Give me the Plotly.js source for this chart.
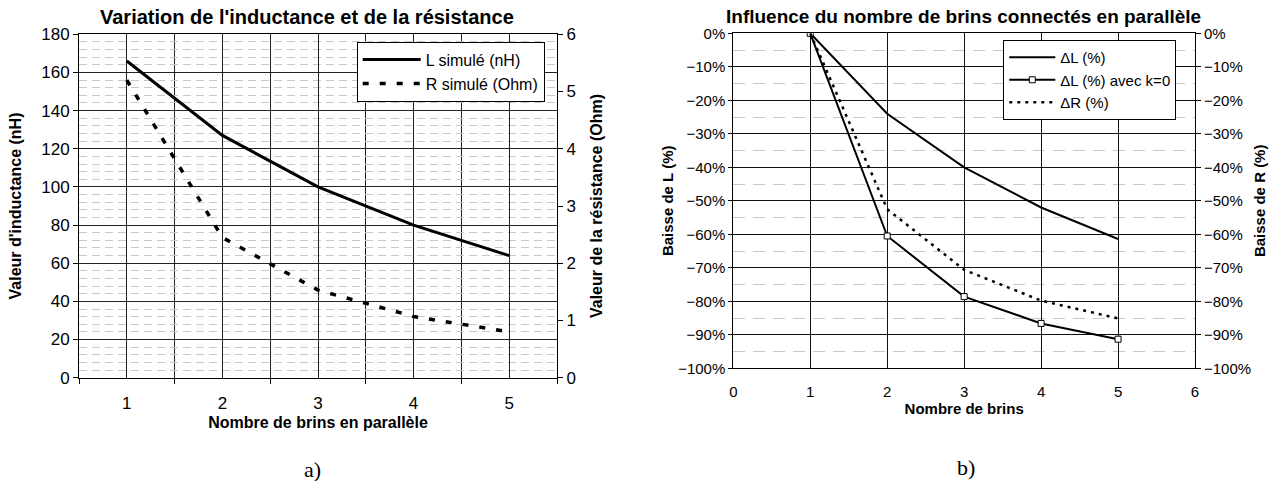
<!DOCTYPE html>
<html>
<head>
<meta charset="utf-8">
<script src="https://cdn.plot.ly/plotly-3.0.1.min.js"></script>
<style>html,body{margin:0;padding:0;background:#fff}#chart{width:1271px;height:481px}</style>
</head>
<body>
<div id="chart"></div>
<script>
// ---- Data: chart a) ----
const brinsA = [1, 2, 3, 4, 5];
const inductanceNH = [166, 127, 100, 80, 64];
const resistanceOhm = [5.2, 2.45, 1.53, 1.07, 0.80];
const xTickLabelsA = ['1', '2', '3', '4', '5'];

// ---- Data: chart b) ----
const brinsB = [1, 2, 3, 4, 5];
const deltaL = [0, -24, -40, -52, -61.4];
const deltaLk0 = [0, -60.5, -78.6, -86.6, -91.3];
const deltaR = [0, -52.5, -70.6, -79.8, -85.1];

const W = 1271, H = 481;
const px = v => v / W;
const py = v => 1 - v / H;
const FONT = 'Liberation Sans, Arial, sans-serif';

const traces = [
  {x: brinsA, y: inductanceNH, name: 'L simulé (nH)', type: 'scatter', mode: 'lines',
   xaxis: 'x', yaxis: 'y', line: {color: '#000', width: 3}, legend: 'legend'},
  {x: brinsA, y: resistanceOhm, name: 'R simulé (Ohm)', type: 'scatter', mode: 'lines',
   xaxis: 'x', yaxis: 'y3', line: {color: '#000', width: 3.5, dash: '6px,11px'}, legend: 'legend'},
  {x: brinsB, y: deltaL, name: 'ΔL (%)', type: 'scatter', mode: 'lines',
   xaxis: 'x2', yaxis: 'y2', line: {color: '#000', width: 2}, legend: 'legend2'},
  {x: brinsB, y: deltaLk0, name: 'ΔL (%) avec k=0', type: 'scatter', mode: 'lines+markers',
   xaxis: 'x2', yaxis: 'y2', line: {color: '#000', width: 2},
   marker: {symbol: 'square', size: 6, color: '#fff', line: {color: '#000', width: 1}}, legend: 'legend2'},
  {x: brinsB, y: deltaR, name: 'ΔR (%)', type: 'scatter', mode: 'lines',
   xaxis: 'x2', yaxis: 'y4', line: {color: '#000', width: 2.5, dash: '3px,5px'}, legend: 'legend2'}
];

const halfTicksA = [];
for (let i = 0; i <= brinsA.length; i++) halfTicksA.push(i + 0.5);

const layout = {
  width: W, height: H,
  margin: {l: 0, r: 0, t: 0, b: 0},
  paper_bgcolor: '#fff', plot_bgcolor: '#fff',
  font: {family: FONT, color: '#000', size: 16},
  showlegend: true,
  xaxis: {
    domain: [px(79), px(557)], anchor: 'y', range: [0.5, 5.5],
    tickmode: 'array', tickvals: brinsA, ticktext: xTickLabelsA, ticks: '',
    tickfont: {size: 17}, ticklabelstandoff: 10,
    showgrid: true, gridcolor: '#222', gridwidth: 1, zeroline: false,
    showline: true, linecolor: '#000', linewidth: 1, mirror: true,
    minor: {tickvals: halfTicksA, ticks: 'outside', ticklen: 5, tickcolor: '#000', showgrid: true, gridcolor: '#222'},
    title: {text: '<b>Nombre de brins en parallèle</b>', font: {size: 16}, standoff: 4},
    automargin: false, fixedrange: true
  },
  yaxis: {
    domain: [py(377.7), py(34.3)], anchor: 'x', range: [0, 180], dtick: 20,
    ticks: 'outside', ticklen: 5, tickcolor: '#000', tickfont: {size: 17},
    showgrid: true, gridcolor: '#222', zeroline: false,
    showline: true, linecolor: '#000', linewidth: 1,
    minor: {dtick: 4, showgrid: true, gridcolor: '#c8c8c8', griddash: '8px,5px'},
    title: {text: "<b>Valeur d'inductance (nH)</b>", font: {size: 16}, standoff: 15},
    automargin: false, fixedrange: true
  },
  yaxis3: {
    overlaying: 'y', side: 'right', anchor: 'x', range: [0, 6], dtick: 1,
    ticks: 'outside', ticklen: 5, tickcolor: '#000', tickfont: {size: 17},
    showgrid: false, zeroline: false, showline: true, linecolor: '#000',
    title: {text: '<b>Valeur de la résistance (Ohm)</b>', font: {size: 16}, standoff: 15},
    automargin: false, fixedrange: true
  },
  xaxis2: {
    domain: [px(733.3), px(1195)], anchor: 'y2', range: [0, 6], dtick: 1,
    ticks: '', tickfont: {size: 15}, ticklabelstandoff: 10,
    showgrid: true, gridcolor: '#111', zeroline: false,
    showline: true, linecolor: '#000', mirror: true,
    title: {text: '<b>Nombre de brins</b>', font: {size: 15}, standoff: 2},
    automargin: false, fixedrange: true
  },
  yaxis2: {
    domain: [py(368.3), py(33.3)], anchor: 'x2', range: [-100, 0], dtick: 10,
    ticksuffix: '%', ticks: 'outside', ticklen: 4, tickcolor: '#000', tickfont: {size: 15},
    showgrid: true, gridcolor: '#111', zeroline: false,
    showline: true, linecolor: '#000',
    minor: {dtick: 5, showgrid: true, gridcolor: '#c8c8c8', griddash: '12px,8px'},
    title: {text: '<b>Baisse de L (%)</b>', font: {size: 15}, standoff: 0},
    automargin: false, fixedrange: true
  },
  yaxis4: {
    overlaying: 'y2', side: 'right', anchor: 'x2', range: [-100, 0], dtick: 10,
    ticksuffix: '%', ticks: 'outside', ticklen: 5, tickcolor: '#000', tickfont: {size: 15},
    showgrid: false, zeroline: false, showline: true, linecolor: '#000',
    title: {text: '<b>Baisse de R (%)</b>', font: {size: 15}, standoff: 4},
    automargin: false, fixedrange: true
  },
  legend: {
    x: px(356.7), y: py(41.7), xanchor: 'left', yanchor: 'top',
    bgcolor: '#fff', bordercolor: '#000', borderwidth: 1,
    font: {size: 16}, tracegroupgap: 0, itemwidth: 58
  },
  legend2: {
    x: px(1003.3), y: py(40), xanchor: 'left', yanchor: 'top',
    bgcolor: '#fff', bordercolor: '#000', borderwidth: 1,
    font: {size: 15}, tracegroupgap: 0, itemwidth: 46
  },
  annotations: [
    {text: "<b>Variation de l'inductance et de la résistance</b>", xref: 'paper', yref: 'paper',
     x: px(307), y: py(17), xanchor: 'center', yanchor: 'middle', showarrow: false, font: {size: 20}},
    {text: '<b>Influence du nombre de brins connectés en parallèle</b>', xref: 'paper', yref: 'paper',
     x: px(963), y: py(17), xanchor: 'center', yanchor: 'middle', showarrow: false, font: {size: 19}},
    {text: 'a)', xref: 'paper', yref: 'paper', x: px(312), y: py(469), xanchor: 'center', yanchor: 'middle',
     showarrow: false, font: {family: 'Liberation Serif, Times New Roman, serif', size: 22}},
    {text: 'b)', xref: 'paper', yref: 'paper', x: px(966), y: py(467), xanchor: 'center', yanchor: 'middle',
     showarrow: false, font: {family: 'Liberation Serif, Times New Roman, serif', size: 22}}
  ]
};

Plotly.newPlot('chart', traces, layout, {staticPlot: true, displayModeBar: false});
</script>
</body>
</html>
